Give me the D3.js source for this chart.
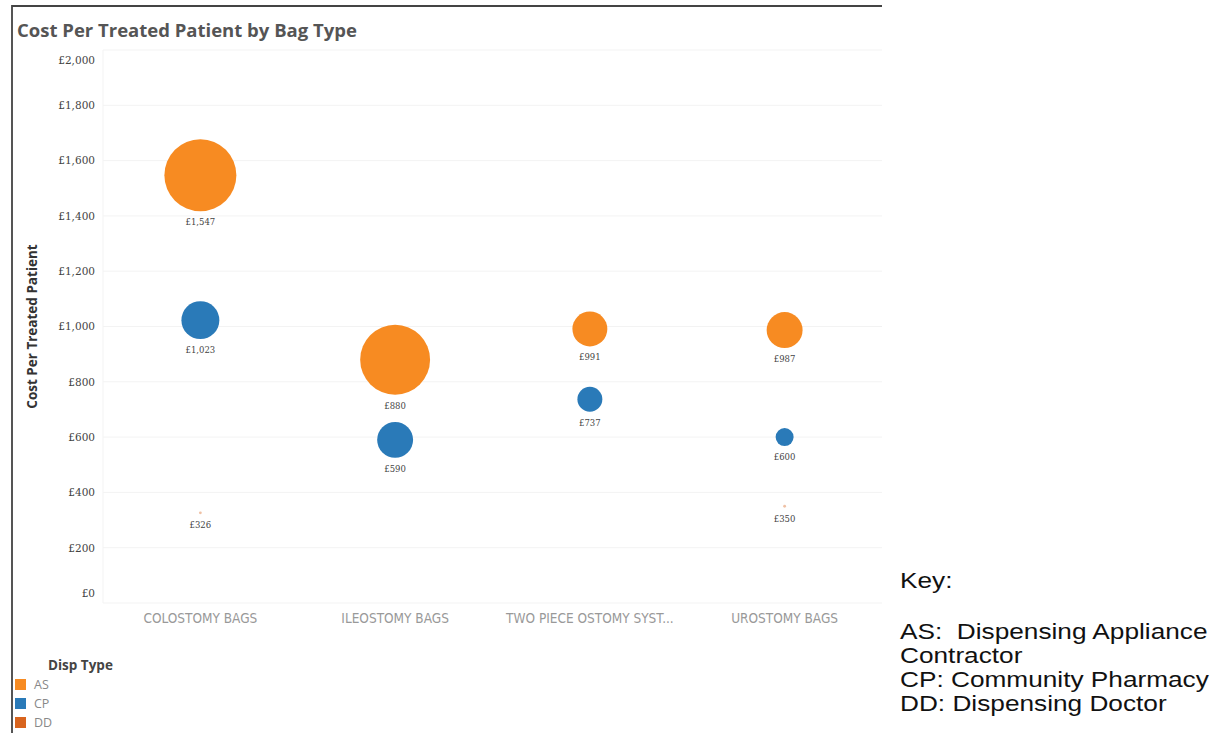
<!DOCTYPE html>
<html>
<head>
<meta charset="utf-8">
<script src="https://cdn.jsdelivr.net/npm/d3@7"></script>
<style>
  body { margin: 0; background: #fff; }
  svg { display: block; }
</style>
</head>
<body>
<div id="chart"></div>
<script>
// data
var bagTypes = ["COLOSTOMY BAGS", "ILEOSTOMY BAGS", "TWO PIECE OSTOMY SYST...", "UROSTOMY BAGS"];
var dispTypes = ["AS", "CP", "DD"];
var dispColors = ["#f78b22", "#2a7ab8", "#d8641e"];
// cost per treated patient, one array per disp type (null = no mark)
var costAS = [1547, 880, 991, 987];
var costCP = [1023, 590, 737, 600];
var costDD = [326, null, null, 350];
// relative bubble size (estimated from circle areas)
var sizeAS = [1300, 1225, 306, 324];
var sizeCP = [361, 324, 156, 81];
var sizeDD = [2, null, null, 2];
var yTicks = [0, 200, 400, 600, 800, 1000, 1200, 1400, 1600, 1800, 2000];
var keyLines = ["Key:", "", "AS:  Dispensing Appliance", "Contractor", "CP: Community Pharmacy", "DD: Dispensing Doctor"];

var W = 1216, H = 733;
var plotLeft = 103, plotRight = 882, plotTop = 50, plotBottom = 603;

var svg = d3.select("#chart").append("svg")
    .attr("width", W)
    .attr("height", H)

// frame
svg.append("line")
    .attr("x1", 12).attr("x2", 12).attr("y1", 5).attr("y2", H)
    .style("stroke", "#555").style("stroke-width", 2)
svg.append("line")
    .attr("x1", 12).attr("x2", plotRight).attr("y1", 6).attr("y2", 6)
    .style("stroke", "#444").style("stroke-width", 2)

svg.append("text")
    .attr("x", 17).attr("y", 37)
    .style("font-family", "Open Sans, sans-serif")
    .style("font-size", "18.5px")
    .style("font-weight", "bold")
    .style("fill", "#555")
    .text("Cost Per Treated Patient by Bag Type")

var x = d3.scaleBand().domain(bagTypes).range([plotLeft, plotRight]);
var y = d3.scaleLinear().domain([0, 2000]).range([plotBottom, plotTop]);
var maxSize = d3.max(sizeAS.concat(sizeCP));
var r = d3.scaleSqrt().domain([0, maxSize]).range([0, 36]);
var fmt = function(d){ return "£" + d3.format(",")(d); };

// gridlines
svg.append("g").selectAll("line").data(yTicks).enter().append("line")
    .attr("x1", plotLeft).attr("x2", plotRight)
    .attr("y1", function(d){ return y(d); })
    .attr("y2", function(d){ return y(d); })
    .style("stroke", "#f3f3f3")
    .style("stroke-width", 1)
svg.append("line")
    .attr("x1", plotLeft).attr("x2", plotLeft).attr("y1", plotTop).attr("y2", plotBottom)
    .style("stroke", "#f3f3f3")

// y axis
var yAxis = svg.append("g")
    .attr("transform", "translate(" + (plotLeft - 8) + ",0)")
    .call(d3.axisLeft(y).tickValues(yTicks).tickFormat(fmt).tickSize(0).tickPadding(0));
yAxis.select(".domain").remove();
yAxis.selectAll("text")
    .style("font-family", "DejaVu Serif, serif")
    .style("font-size", "10.5px")
    .style("fill", "#444")
    .attr("dy", function(d){ return d === 0 ? "-0.6em" : (d === 2000 ? "1.3em" : "0.32em"); })

svg.append("text")
    .attr("transform", "translate(37," + y(1000) + ") rotate(-90)")
    .attr("text-anchor", "middle")
    .style("font-family", "Open Sans, sans-serif")
    .style("font-size", "13.5px")
    .style("font-weight", "bold")
    .style("fill", "#333")
    .text("Cost Per Treated Patient")

// x axis labels
var xAxis = svg.append("g")
    .attr("transform", "translate(0," + (plotBottom + 15) + ")")
    .call(d3.axisBottom(x).tickSize(0).tickPadding(0));
xAxis.select(".domain").remove();
xAxis.selectAll("text")
    .style("font-family", "DejaVu Sans Condensed, DejaVu Sans, sans-serif")
    .style("font-size", "13.5px")
    .style("fill", "#999")
    .attr("dy", "0.35em")

// build marks table
var marks = [];
var costs = [costAS, costCP, costDD];
var sizes = [sizeAS, sizeCP, sizeDD];
dispTypes.forEach(function(t, j){
    bagTypes.forEach(function(b, i){
        if (costs[j][i] == null) return;
        marks.push({bag: b, type: t, color: dispColors[j], cost: costs[j][i], size: sizes[j][i]});
    });
});

var g = svg.append("g");
g.selectAll("circle").data(marks).enter().append("circle")
    .attr("cx", function(d){ return x(d.bag) + x.bandwidth() / 2; })
    .attr("cy", function(d){ return y(d.cost); })
    .attr("r", function(d){ return Math.max(r(d.size), 0.8); })
    .style("fill", function(d){ return d.color; })
    .style("fill-opacity", function(d){ return d.type === "DD" ? 0.4 : 1; })

g.selectAll("text").data(marks).enter().append("text")
    .attr("x", function(d){ return x(d.bag) + x.bandwidth() / 2; })
    .attr("y", function(d){ return y(d.cost) + Math.max(r(d.size), 0.8) + 11; })
    .attr("dy", "0.35em")
    .attr("text-anchor", "middle")
    .style("font-family", "DejaVu Serif, serif")
    .style("font-size", "8.5px")
    .style("fill", "#444")
    .text(function(d){ return fmt(d.cost); })

// legend
svg.append("text")
    .attr("x", 48).attr("y", 670)
    .style("font-family", "Open Sans, sans-serif")
    .style("font-size", "13.5px")
    .style("font-weight", "bold")
    .style("fill", "#444")
    .text("Disp Type")
var leg = svg.append("g").selectAll("g").data(dispTypes).enter().append("g")
    .attr("transform", function(d, i){ return "translate(15," + (679 + i * 19) + ")"; })
leg.append("rect")
    .attr("width", 11).attr("height", 11)
    .style("fill", function(d, i){ return dispColors[i]; })
leg.append("text")
    .attr("x", 19).attr("y", 6)
    .attr("dy", "0.35em")
    .style("font-family", "Open Sans, sans-serif")
    .style("font-size", "12.5px")
    .style("fill", "#888")
    .text(function(d){ return d; })

// key text on the right (stretched sideways like the pasted image)
svg.append("g")
    .attr("transform", "translate(900,0) scale(1.22,1)")
    .selectAll("text").data(keyLines).enter().append("text")
    .attr("x", 0)
    .attr("y", function(d, i){ return i === 0 ? 588 : 639.5 + (i - 2) * 24; })
    .style("font-family", "Liberation Sans, Arial, sans-serif")
    .style("font-size", "21.5px")
    .style("fill", "#111")
    .attr("xml:space", "preserve")
    .text(function(d){ return d; })
</script>
</body>
</html>
